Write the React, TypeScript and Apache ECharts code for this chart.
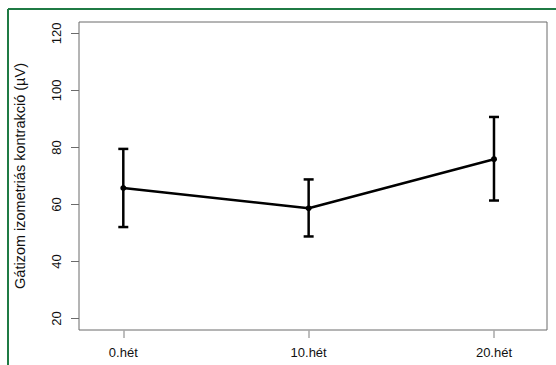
import React, { useEffect, useRef } from "react";
import * as echarts from "echarts";

const categories = ["0.hét", "10.hét", "20.hét"];
const means = [65.8, 58.7, 75.9];
const lower = [52.1, 48.8, 61.4];
const upper = [79.5, 68.8, 90.7];
const yTicks = [20, 40, 60, 80, 100, 120];
const yTitle = "Gátizom izometriás kontrakció (µV)";

export default function App() {
  const ref = useRef<HTMLDivElement>(null);
  useEffect(() => {
    if (!ref.current) return;
    const chart = echarts.init(ref.current, null, { renderer: "svg" });
    const xs = categories.map((_, i) => i + 1);
    const font = "Liberation Sans, Arial, sans-serif";
    const green = { stroke: "#1f7a44", lineWidth: 2 };
    chart.setOption({
      animation: false,
      backgroundColor: "#ffffff",
      grid: {
        left: 79,
        right: 9,
        top: 22,
        bottom: 35,
        show: true,
        borderColor: "#6b6b6b",
        borderWidth: 1,
        backgroundColor: "transparent",
      },
      graphic: [
        {
          type: "line",
          shape: { x1: 8, y1: 9, x2: 556, y2: 9 },
          style: green,
          silent: true,
          z: 100,
        },
        {
          type: "line",
          shape: { x1: 8, y1: 9, x2: 8, y2: 365 },
          style: green,
          silent: true,
          z: 100,
        },
      ],
      xAxis: {
        type: "value",
        min: 0.761,
        max: 3.286,
        axisLine: { show: false },
        splitLine: { show: false },
        axisTick: {
          show: true,
          length: 8,
          customValues: xs,
          lineStyle: { color: "#a8a8a8", width: 1.5 },
        },
        axisLabel: {
          customValues: xs,
          margin: 16,
          fontSize: 13,
          fontFamily: font,
          color: "#111",
          formatter: (v: number) => categories[Math.round(v) - 1] ?? "",
        },
      },
      yAxis: {
        type: "value",
        min: 16,
        max: 124,
        axisLine: { show: false },
        splitLine: { show: false },
        axisTick: {
          show: true,
          length: 8,
          customValues: yTicks,
          lineStyle: { color: "#6b6b6b", width: 1 },
        },
        axisLabel: {
          customValues: yTicks,
          rotate: 90,
          margin: 16,
          fontSize: 13,
          fontFamily: font,
          color: "#111",
        },
        name: yTitle,
        nameLocation: "middle",
        nameRotate: 90,
        nameGap: 52,
        nameTextStyle: { fontSize: 14.5, fontFamily: font, color: "#111" },
      },
      series: [
        {
          type: "custom",
          data: xs.map((x, i) => [x, lower[i], upper[i]]),
          renderItem: (params: any, api: any) => {
            const x = api.value(0);
            const lo = api.coord([x, api.value(1)]);
            const hi = api.coord([x, api.value(2)]);
            const cap = 5;
            const style = { stroke: "#000", lineWidth: 2.5 };
            return {
              type: "group",
              children: [
                { type: "line", shape: { x1: lo[0], y1: lo[1], x2: hi[0], y2: hi[1] }, style },
                { type: "line", shape: { x1: lo[0] - cap, y1: lo[1], x2: lo[0] + cap, y2: lo[1] }, style },
                { type: "line", shape: { x1: hi[0] - cap, y1: hi[1], x2: hi[0] + cap, y2: hi[1] }, style },
              ],
            };
          },
          z: 2,
        },
        {
          type: "line",
          data: xs.map((x, i) => [x, means[i]]),
          symbol: "circle",
          symbolSize: 6,
          lineStyle: { color: "#000", width: 2.5 },
          itemStyle: { color: "#000" },
          z: 3,
        },
      ],
    });
    return () => chart.dispose();
  }, []);
  return (
    <div
      ref={ref}
      style={{ position: "fixed", left: 0, top: 0, width: 556, height: 365 }}
    />
  );
}
